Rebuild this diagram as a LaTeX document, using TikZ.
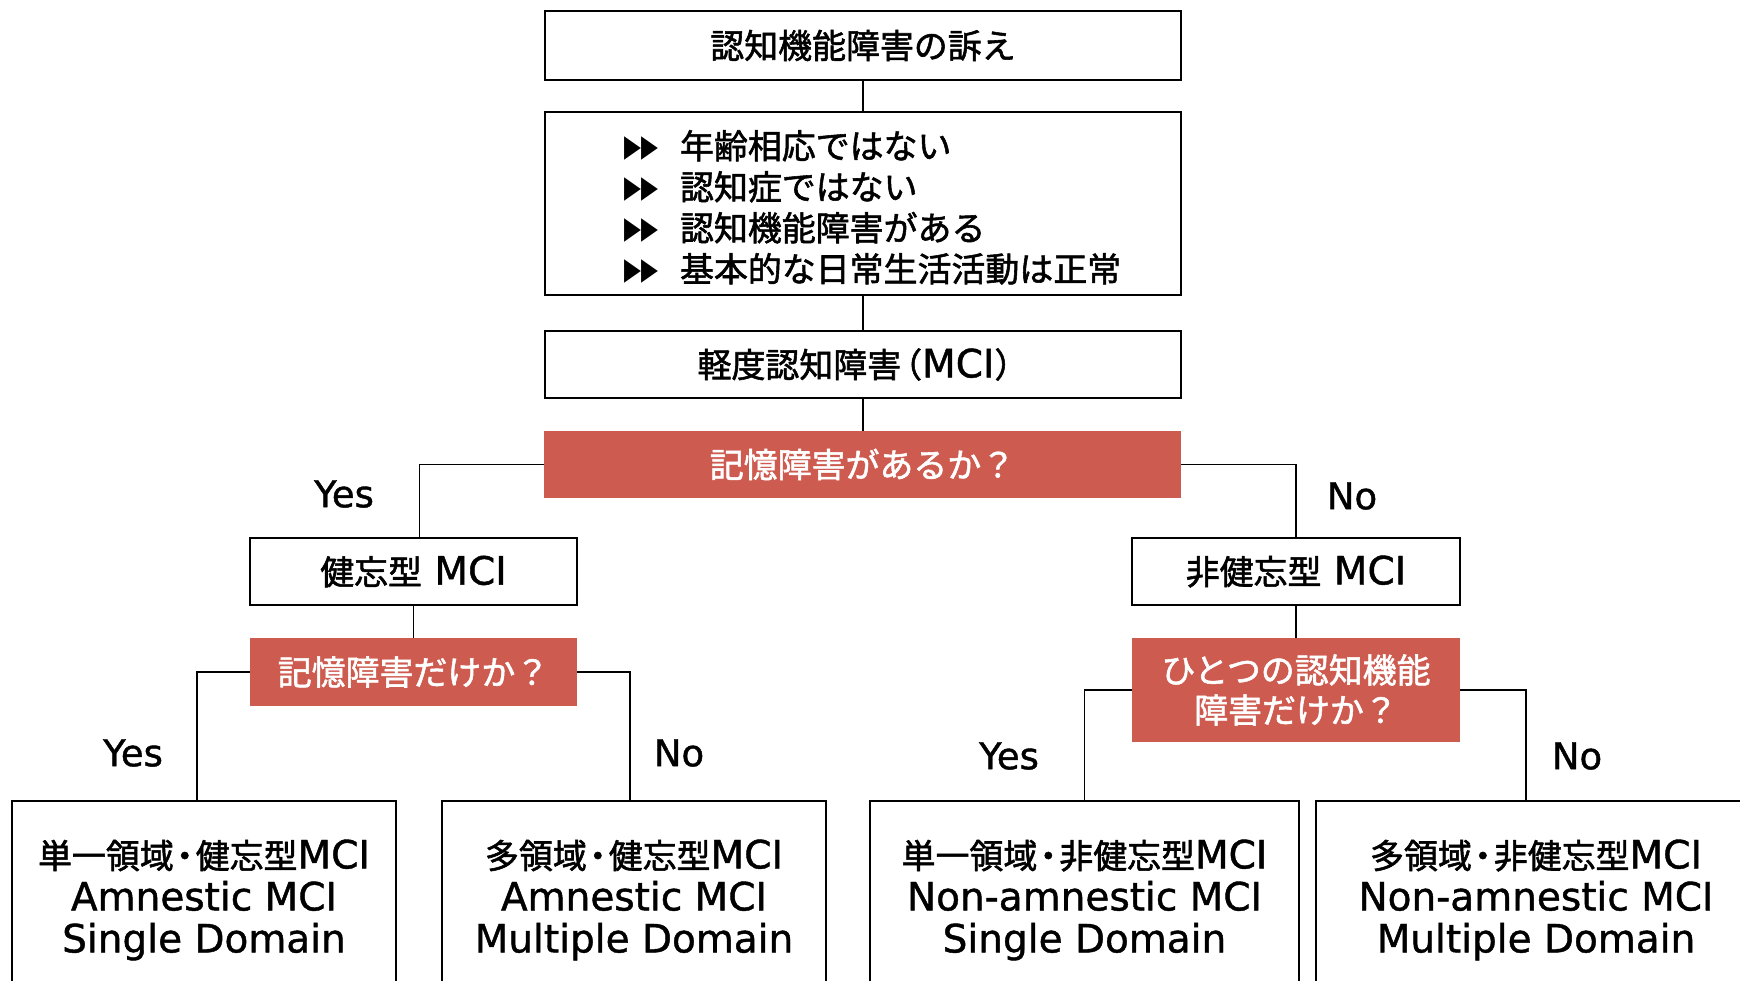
\documentclass[tikz,border=0pt]{standalone}
\usepackage{fontspec}
\setmainfont{DejaVu Sans}[FakeBold=1.1]
\newfontfamily\jp{Noto Sans CJK JP}[Scale=0.87,FakeBold=1.6]
\newfontfamily\bulfont{DejaVu Sans}
\definecolor{redc}{RGB}{206,91,79}
\newcommand{\bul}{\raisebox{2pt}{\scalebox{1}[1.4]{\bulfont\fontsize{22}{22}\selectfont ▶▶}}}
\newcommand{\jdot}{{\jp\kern-6pt・\kern-6pt}}
\begin{document}
\begin{tikzpicture}[x=1pt,y=-1pt,
  box/.style={draw, line width=2pt, inner sep=0pt, align=center, font=\fontsize{39}{42}\selectfont},
  redbox/.style={fill=redc, text=white, inner sep=0pt, align=center, font=\fontsize{39}{40}\selectfont},
  conn/.style={line width=1.5pt},
  lbl/.style={font=\fontsize{37}{40}\selectfont, inner sep=0pt}]
\clip (0,0) rectangle (1740,981);
\fill[white] (0,0) rectangle (1740,981);

\node[box, minimum width=636pt, minimum height=69pt] (top) at (863,45.5) {\jp 認知機能障害の訴え};
\node[box, minimum width=636pt, minimum height=183pt] (crit) at (863,203.5) {};
\node[anchor=west, inner sep=0pt, font=\fontsize{39}{41}\selectfont] (list) at (624,212)
  {\begin{tabular}{@{}l@{\hspace{22pt}}l@{}}
   \bul & \jp 年齢相応ではない\\
   \bul & \jp 認知症ではない\\
   \bul & \jp 認知機能障害がある\\
   \bul & \jp 基本的な日常生活活動は正常
   \end{tabular}};
\node[box, minimum width=636pt, minimum height=67pt] (mci) at (863,364.5) {{\jp 軽度認知障害\kern-13pt（}MCI{\jp ）}};
\node[redbox, minimum width=637pt, minimum height=67pt] (q1) at (862.5,464.5) {\jp 記憶障害があるか？};
\node[box, minimum width=327pt, minimum height=67pt] (amn) at (413.5,571.5) {{\jp 健忘型} MCI};
\node[box, minimum width=328pt, minimum height=67pt] (namn) at (1296,571.5) {{\jp 非健忘型} MCI};
\node[redbox, minimum width=327pt, minimum height=68pt] (q2) at (413.5,672) {\jp 記憶障害だけか？};
\node[redbox, minimum width=328pt, minimum height=104pt] (q3) at (1296,690) {\jp ひとつの認知機能\\\jp 障害だけか？};

\node[box, minimum width=384pt, minimum height=198pt] (sa) at (204,900) {{\jp 単一領域}\jdot{\jp 健忘型}MCI\\Amnestic MCI\\Single Domain};
\node[box, minimum width=384pt, minimum height=198pt] (ma) at (634,900) {{\jp 多領域}\jdot{\jp 健忘型}MCI\\Amnestic MCI\\Multiple Domain};
\node[box, minimum width=429pt, minimum height=198pt] (sn) at (1084.5,900) {{\jp 単一領域}\jdot{\jp 非健忘型}MCI\\Non-amnestic MCI\\Single Domain};
\node[box, minimum width=440pt, minimum height=198pt] (mn) at (1536,900) {{\jp 多領域}\jdot{\jp 非健忘型}MCI\\Non-amnestic MCI\\Multiple Domain};

\draw[conn] (top.south) -- (top.south |- crit.north);
\draw[conn] (crit.south) -- (crit.south |- mci.north);
\draw[conn] (mci.south) -- (mci.south |- q1.north);
\draw[conn] (amn.south) -- (amn.south |- q2.north);
\draw[conn] (namn.south) -- (namn.south |- q3.north);

\draw[conn] (q1.west) -| ([xshift=6pt]amn.north);
\draw[conn] (q1.east) -| (namn.north);
\draw[conn] (q2.west) -| ([xshift=-7pt]sa.north);
\draw[conn] (q2.east) -| ([xshift=-4pt]ma.north);
\draw[conn] (q3.west) -| (sn.north);
\draw[conn] (q3.east) -| ([xshift=-10pt]mn.north);

\node[lbl] (y1) at (344,494) {Yes};
\node[lbl] (n1) at (1352,496) {No};
\node[lbl] (y2) at (133,753) {Yes};
\node[lbl] (n2) at (679,753) {No};
\node[lbl] (y3) at (1009,756) {Yes};
\node[lbl] (n3) at (1577,756) {No};
\end{tikzpicture}
\end{document}
